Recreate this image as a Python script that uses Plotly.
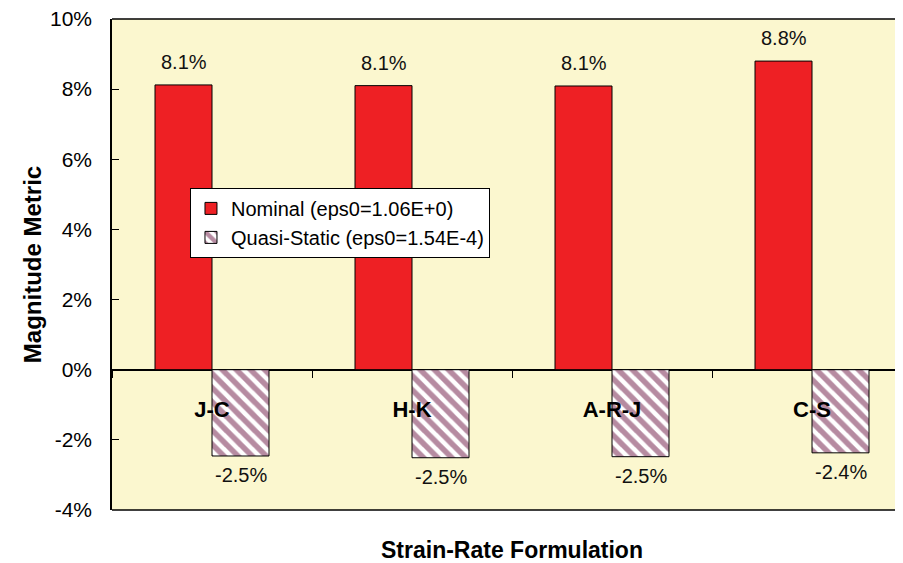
import plotly.graph_objects as go

categories = ["J-C", "H-K", "A-R-J", "C-S"]
nominal = [0.0812, 0.0810, 0.0809, 0.0880]
quasi = [-0.0246, -0.0251, -0.0248, -0.0237]
series_names = ["Nominal (eps0=1.06E+0)", "Quasi-Static (eps0=1.54E-4)"]
y_ticks = [-0.04, -0.02, 0.0, 0.02, 0.04, 0.06, 0.08, 0.10]
y_ticktext = ["-4%", "-2%", "0%", "2%", "4%", "6%", "8%", "10%"]

FONT = "Liberation Sans, Arial, sans-serif"

fig = go.Figure()
fig.add_trace(go.Bar(
    x=categories, y=nominal, name=series_names[0],
    marker=dict(color="#EE2024", line=dict(color="black", width=1)),
))
fig.add_trace(go.Bar(
    x=categories, y=quasi, name=series_names[1],
    marker=dict(color="#6E1744", line=dict(color="black", width=1),
                pattern=dict(shape="\\", fgcolor="#6E1744", bgcolor="white",
                             size=10, solidity=0.55)),
))

annotations = []
for c, v in zip(categories, nominal):
    annotations.append(dict(x=c, y=v, xref="x", yref="y", text=f"{v*100:.1f}%",
                            showarrow=False, xshift=-28.5, yshift=23,
                            font=dict(family=FONT, size=20, color="#111")))
for c, v in zip(categories, quasi):
    annotations.append(dict(x=c, y=v, xref="x", yref="y", text=f"{v*100:.1f}%",
                            showarrow=False, xshift=28.5, yshift=-19,
                            font=dict(family=FONT, size=20, color="#111")))
annotations.append(dict(x=1.5, y=-0.0806, xref="x", yref="paper",
                        text="Strain-Rate Formulation", showarrow=False,
                        yanchor="middle",
                        font=dict(family=FONT, size=23, color="black", weight="bold")))

fig.update_layout(
    width=903, height=563,
    margin=dict(l=104, r=0, t=11, b=61),
    paper_bgcolor="white",
    plot_bgcolor="#FBF7CF",
    barmode="group",
    bargap=0.43,
    bargroupgap=0,
    showlegend=True,
    legend=dict(x=0.0976, y=0.656, xanchor="left", yanchor="top",
                bgcolor="white", bordercolor="black", borderwidth=1,
                font=dict(family=FONT, size=20, color="black"),
                itemwidth=30, tracegroupgap=0),
    annotations=annotations,
    shapes=[
        dict(type="line", xref="paper", yref="paper", x0=0, x1=1, y0=1, y1=1,
             line=dict(color="black", width=1.5)),
        dict(type="line", xref="paper", yref="paper", x0=0, x1=1, y0=0, y1=0,
             line=dict(color="black", width=1.5)),
    ],
    xaxis=dict(
        type="category", range=[-0.5, 3.495],
        anchor="free", position=4 / 14,
        showline=False,
        ticks="outside", ticklen=7, tickcolor="black", tickwidth=1.2,
        tickson="boundaries",
        ticklabelstandoff=24,
        tickfont=dict(family=FONT, size=22, color="black", weight="bold"),
        showgrid=False, zeroline=False,
    ),
    yaxis=dict(
        range=[-0.04, 0.10], tickvals=y_ticks, ticktext=y_ticktext,
        showline=True, linecolor="black", linewidth=1.5,
        ticks="inside", ticklen=7, tickcolor="black", tickwidth=1.2,
        ticklabelstandoff=14, ticklabeloverflow="allow",
        tickfont=dict(family=FONT, size=21, color="black"),
        showgrid=False, zeroline=True, zerolinecolor="black", zerolinewidth=1.5,
        title=dict(text="Magnitude Metric", standoff=2,
                   font=dict(family=FONT, size=24, color="black", weight="bold")),
    ),
)

fig.write_html("out.html")
